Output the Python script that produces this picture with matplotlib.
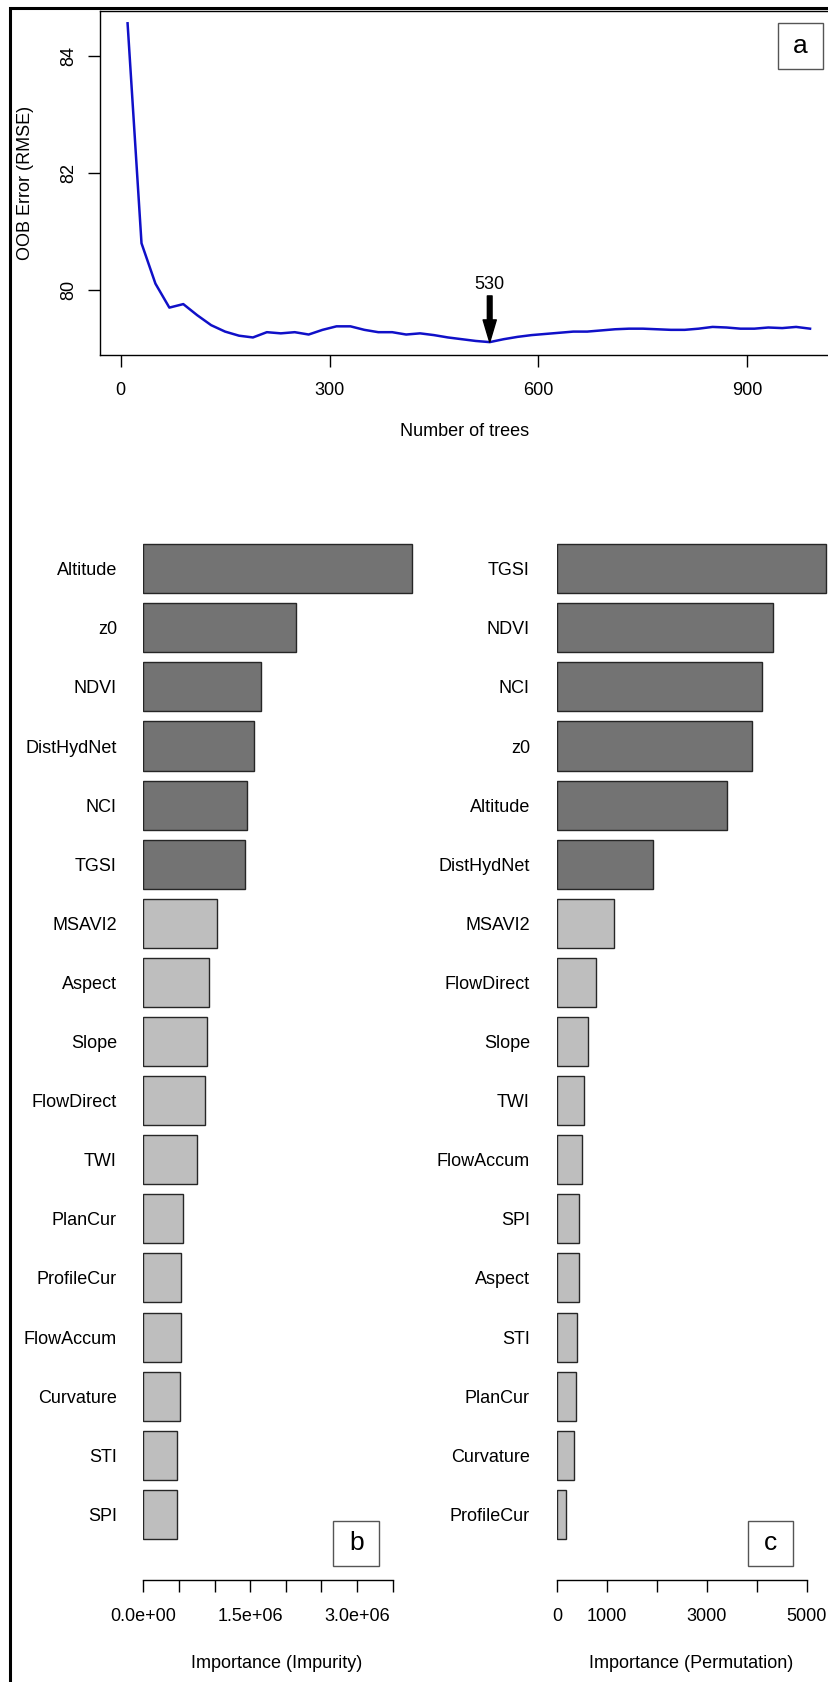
import matplotlib
matplotlib.use("Agg")
import matplotlib.pyplot as plt
from matplotlib.patches import Rectangle

plt.rcParams['font.family'] = ['Liberation Sans', 'DejaVu Sans']

# ---- panel a: OOB error vs number of trees ----
trees = list(range(10, 1000, 20))
oob_rmse = [84.56, 80.80, 80.11, 79.70, 79.76, 79.57, 79.40, 79.29, 79.22, 79.19,
            79.28, 79.26, 79.28, 79.24, 79.32, 79.38, 79.38, 79.32, 79.28, 79.28,
            79.24, 79.26, 79.23, 79.19, 79.16, 79.13, 79.11, 79.16, 79.20, 79.23,
            79.25, 79.27, 79.29, 79.29, 79.31, 79.33, 79.34, 79.34, 79.33, 79.32,
            79.32, 79.34, 79.37, 79.36, 79.34, 79.34, 79.36, 79.35, 79.37, 79.34]
best_ntree = 530
best_rmse = 79.11

# ---- panel b: impurity importance ----
imp_labels = ['Altitude', 'z0', 'NDVI', 'DistHydNet', 'NCI', 'TGSI', 'MSAVI2', 'Aspect',
              'Slope', 'FlowDirect', 'TWI', 'PlanCur', 'ProfileCur', 'FlowAccum',
              'Curvature', 'STI', 'SPI']
imp_values = [3.78e6, 2.15e6, 1.66e6, 1.555e6, 1.46e6, 1.433e6, 1.03e6, 0.918e6,
              0.89e6, 0.862e6, 0.75e6, 0.562e6, 0.53e6, 0.525e6, 0.511e6, 0.478e6, 0.475e6]

# ---- panel c: permutation importance ----
perm_labels = ['TGSI', 'NDVI', 'NCI', 'z0', 'Altitude', 'DistHydNet', 'MSAVI2', 'FlowDirect',
               'Slope', 'TWI', 'FlowAccum', 'SPI', 'Aspect', 'STI', 'PlanCur',
               'Curvature', 'ProfileCur']
perm_values = [5380, 4313, 4093, 3893, 3393, 1920, 1147, 787, 620, 547, 500, 440, 433,
               407, 385, 347, 180]

N_TOP = 6  # top variables drawn in dark grey
DARK, LIGHT, EDGE = '#737373', '#bebebe', '#262626'

W, H = 829, 1682
FS = 13


def fx(px):
    return px / W


def fy(py):
    return 1 - py / H


def add_axes_px(left, top, right, bottom):
    return fig.add_axes([fx(left), fy(bottom), (right - left) / W, (bottom - top) / H])


def letter_box(x0, y0, x1, y1, letter):
    fig.add_artist(Rectangle((fx(x0), fy(y1)), (x1 - x0) / W, (y1 - y0) / H,
                             transform=fig.transFigure, fill=False, ec='#555555', lw=1.0))
    fig.text(fx((x0 + x1) / 2), fy((y0 + y1) / 2), letter, ha='center', va='center',
             fontsize=19)


def bar_panel(ax, labels, values, xmax, ticks, ticklabels, label_pad):
    pos = list(range(len(labels)))
    colors = [DARK if i < N_TOP else LIGHT for i in pos]
    ax.barh(pos, values, height=0.83, color=colors, edgecolor=EDGE, linewidth=1.0)
    ax.set_ylim(17.11, -0.57)
    ax.set_xlim(0, xmax)
    ax.set_yticks(pos)
    ax.set_yticklabels(labels, fontsize=FS)
    ax.tick_params(axis='y', length=0, pad=label_pad)
    for s in ['left', 'top', 'right']:
        ax.spines[s].set_visible(False)
    ax.spines['bottom'].set_bounds(ticks[0], ticks[-1])
    ax.spines['bottom'].set_linewidth(1.0)
    ax.set_xticks(ticks)
    ax.set_xticklabels(ticklabels, fontsize=FS)
    ax.tick_params(axis='x', direction='out', length=8.4, width=1.0, pad=11.5)
    ax.patch.set_visible(False)


fig = plt.figure(figsize=(8.29, 16.82), dpi=100)

# outer frame (cropped on right and bottom in the original)
fig.add_artist(Rectangle((fx(10), -0.05), 1.2, fy(8) + 0.05, transform=fig.transFigure,
                         fill=False, ec='black', lw=2.2))

# panel a
ax_a = add_axes_px(100, 11, 844.6, 355)
ax_a.plot(trees, oob_rmse, color='#1010c8', lw=1.8)
ax_a.set_xlim(-29.6, 1039.6)
ax_a.set_ylim(78.89, 84.77)
ax_a.set_xticks([0, 300, 600, 900])
ax_a.set_xticklabels(['0', '300', '600', '900'], fontsize=FS)
ax_a.set_yticks([80, 82, 84])
ax_a.set_yticklabels(['80', '82', '84'], fontsize=FS, rotation=90, va='center')
ax_a.tick_params(axis='x', direction='out', length=8.5, width=1.0, pad=11)
ax_a.tick_params(axis='y', direction='out', length=8.5, width=1.0, pad=8)
for s in ax_a.spines.values():
    s.set_linewidth(1.0)
ax_a.annotate('', xy=(best_ntree, best_rmse), xytext=(best_ntree, 79.90),
              arrowprops=dict(facecolor='black', edgecolor='black', width=3.4,
                              headwidth=9.5, headlength=16, shrink=0))
ax_a.text(best_ntree, 80.10, str(best_ntree), ha='center', va='center', fontsize=FS)
fig.text(fx(465), fy(431), 'Number of trees', ha='center', va='center', fontsize=FS)
fig.text(fx(26), fy(183), 'OOB Error (RMSE)', ha='center', va='center', fontsize=FS,
         rotation=90)
letter_box(778, 23, 823, 69, 'a')

# panel b
ax_b = add_axes_px(143.3, 535, 420, 1580)
bar_panel(ax_b, imp_labels, imp_values, 3.886e6,
          [i * 5e5 for i in range(8)],
          ['0.0e+00', '', '', '1.5e+06', '', '', '3.0e+06', ''], 19)
fig.text(fx(277), fy(1663), 'Importance (Impurity)', ha='center', va='center', fontsize=FS)
letter_box(333.3, 1520.7, 379.3, 1566, 'b')

# panel c
ax_c = add_axes_px(557, 535, 829, 1580)
bar_panel(ax_c, perm_labels, perm_values, 5440,
          [0, 1000, 2000, 3000, 4000, 5000],
          ['0', '1000', '', '3000', '', '5000'], 19.5)
fig.text(fx(691), fy(1663), 'Importance (Permutation)', ha='center', va='center', fontsize=FS)
letter_box(748.3, 1520.7, 793.3, 1566, 'c')

fig.savefig('out.png', dpi=100)
